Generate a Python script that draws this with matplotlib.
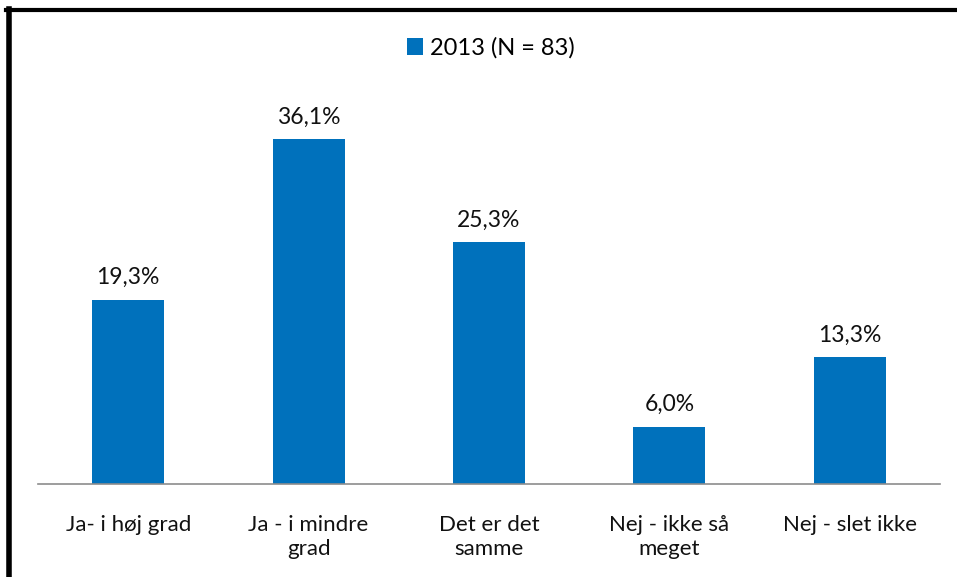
import matplotlib.pyplot as plt
from matplotlib.lines import Line2D

plt.rcParams['font.family'] = ['Lato', 'DejaVu Sans']

categories = ['Ja- i høj grad', 'Ja - i mindre\ngrad', 'Det er det\nsamme',
              'Nej - ikke så\nmeget', 'Nej - slet ikke']
values = [19.3, 36.1, 25.3, 6.0, 13.3]
series_name = '2013 (N = 83)'
bar_color = '#0071BC'

fig = plt.figure(figsize=(9.57, 5.77), dpi=100)
ax = fig.add_axes([38 / 957, 93 / 577, 902 / 957, 404 / 577])

x = range(len(categories))
bars = ax.bar(x, values, width=0.4, color=bar_color, label=series_name)
for xi, v in zip(x, values):
    ax.text(xi, v + 1.2, f'{v:.1f}%'.replace('.', ','), ha='center', va='bottom',
            fontsize=16.5, color='#111111')

ax.set_xlim(-0.5, len(categories) - 0.5)
ax.set_ylim(0, 404 / 9.557)
ax.set_yticks([])
ax.set_xticks(list(x))
ax.set_xticklabels(categories, fontsize=16, color='#111111', linespacing=1.3)
ax.tick_params(axis='x', length=0, pad=22)
for side in ['top', 'right', 'left']:
    ax.spines[side].set_visible(False)
ax.spines['bottom'].set_color('#8c8c8c')
ax.spines['bottom'].set_linewidth(1.2)

fig.legend(handles=[bars], labels=[series_name], loc='center',
           bbox_to_anchor=(491 / 957, 1 - 48 / 577), frameon=False, fontsize=17,
           handlelength=0.7, handleheight=0.7, handletextpad=0.3)

# black frame on left and top
fig.add_artist(Line2D([9 / 957, 9 / 957], [0, 1 - 9 / 577], color='black',
                      linewidth=4, transform=fig.transFigure))
fig.add_artist(Line2D([6 / 957, 1], [1 - 9.5 / 577, 1 - 9.5 / 577], color='black',
                      linewidth=3, transform=fig.transFigure))

fig.savefig('out.png', dpi=100)
